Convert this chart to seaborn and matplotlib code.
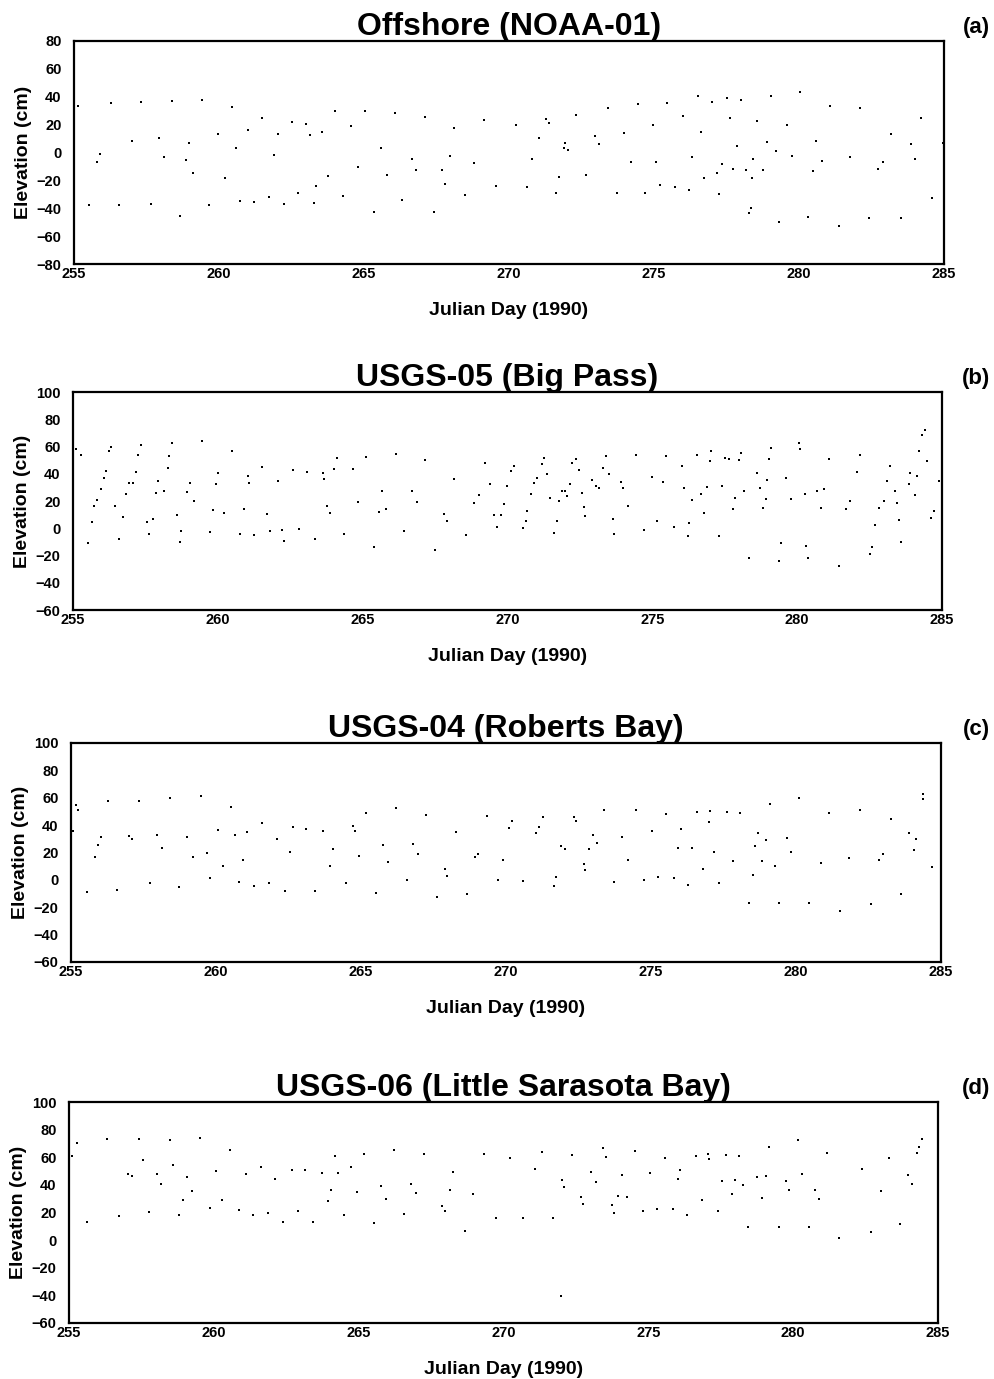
import pandas as pd
import matplotlib.pyplot as plt
import seaborn as sns

# Water level samples (Julian day, elevation cm)
a_day = [255.15, 255.5, 255.78, 255.88, 256.28, 256.56, 257.0, 257.31, 257.64, 257.94,
         258.1, 258.39, 258.64, 258.85, 258.97, 259.1, 259.4, 259.67, 259.96, 260.19,
         260.46, 260.6, 260.71, 260.99, 261.2, 261.49, 261.72, 261.88, 262.02, 262.23,
         262.5, 262.72, 262.99, 263.13, 263.27, 263.35, 263.55, 263.77, 264.0, 264.29,
         264.56, 264.79, 265.05, 265.34, 265.6, 265.78, 266.07, 266.32, 266.67, 266.79,
         267.1, 267.4, 267.7, 267.79, 267.95, 268.1, 268.47, 268.8, 269.14, 269.54,
         270.23, 270.63, 270.8, 271.05, 271.28, 271.37, 271.61, 271.72, 271.88, 271.94,
         272.05, 272.32, 272.65, 272.97, 273.12, 273.4, 273.71, 273.97, 274.19, 274.45,
         274.68, 274.97, 275.08, 275.19, 275.45, 275.71, 275.99, 276.22, 276.31, 276.51,
         276.61, 276.74, 276.99, 277.16, 277.24, 277.34, 277.53, 277.61, 277.74, 277.85,
         278.0, 278.16, 278.28, 278.36, 278.39, 278.43, 278.56, 278.77, 278.9, 279.04,
         279.19, 279.3, 279.57, 279.76, 280.05, 280.31, 280.47, 280.59, 280.79, 281.07,
         281.38, 281.76, 282.1, 282.42, 282.73, 282.9, 283.16, 283.5, 283.85, 283.99,
         284.19, 284.58, 284.95]
a_elev = [33.7, -37.7, -7, -1, 35.6, -37.7, 8.4, 36, -36.8, 10.3,
          -3, 37, -45.7, -5.5, 7, -14.4, 37.7, -38, 13, -18,
          32.5, 2.9, -34.9, 16, -35.3, 24.8, -31.7, -1.7, 13.2, -37.3,
          21.6, -28.8, 20.4, 12.7, -36, -24, 14.9, -16.8, 30, -31.3,
          19, -10.3, 30, -42.5, 2.9, -16, 28.4, -34.4, -4.8, -12.7,
          25.2, -42.8, -12.5, -22.4, -2.4, 17.5, -30.5, -7.7, 23.6, -24,
          19.8, -24.4, -5, 10.6, 23.9, 21, -28.7, -17.6, 3.4, 7,
          1.7, 27, -16.4, 11.8, 5.8, 31.9, -28.7, 13.8, -6.8, 34.8,
          -29.2, 19.6, -6.8, -23.2, 35.3, -25.1, 26.3, -26.8, -3.4, 40.3,
          15, -18.4, 36.5, -14.7, -29.7, -8.2, 38.9, 24.4, -11.8, 4.6,
          37.9, -12.3, -43.7, -40, -18.4, -5, 22.7, -12.3, 7.5, 40.3,
          1, -49.8, 19.6, -2.2, 43.2, -46.6, -13, 8.2, -5.8, 33.1,
          -52.9, -3.4, 31.6, -47.3, -11.6, -7, 13.5, -47.3, 5.8, -5,
          25.1, -32.9, 6.5]

b_day = [255.12, 255.26, 255.51, 255.66, 255.72, 255.84, 255.95, 256.07, 256.13, 256.24,
         256.3, 256.45, 256.59, 256.73, 256.83, 256.94, 257.06, 257.17, 257.26, 257.35,
         257.56, 257.64, 257.76, 257.87, 257.95, 258.14, 258.28, 258.31, 258.42, 258.59,
         258.69, 258.74, 258.92, 259.03, 259.19, 259.44, 259.73, 259.85, 259.94, 260.02,
         260.22, 260.49, 260.76, 260.9, 261.03, 261.07, 261.24, 261.53, 261.71, 261.79,
         262.06, 262.23, 262.29, 262.58, 262.81, 263.08, 263.34, 263.63, 263.66, 263.78,
         263.86, 264.01, 264.13, 264.36, 264.65, 264.85, 265.12, 265.4, 265.58, 265.66,
         265.81, 266.15, 266.42, 266.71, 266.88, 267.15, 267.49, 267.81, 267.91, 268.16,
         268.57, 268.86, 269.01, 269.24, 269.41, 269.53, 269.65, 269.79, 269.87,
         269.97, 270.11, 270.23, 270.55, 270.63, 270.69, 270.8, 270.92, 271.03, 271.18,
         271.26, 271.38, 271.46, 271.59, 271.7, 271.78, 271.87, 271.99, 272.07, 272.15,
         272.24, 272.36, 272.47, 272.56, 272.64, 272.68, 272.91, 273.05, 273.16, 273.28,
         273.39, 273.51, 273.63, 273.68, 273.91, 274.0, 274.17, 274.45, 274.71, 275.0,
         275.17, 275.38, 275.46, 275.75, 276.01, 276.09, 276.26, 276.36, 276.24, 276.53,
         276.67, 276.78, 276.87, 276.98, 277.01, 277.3, 277.41, 277.51, 277.64, 277.79,
         277.86, 277.99, 278.05, 278.16, 278.33, 278.62, 278.71, 278.82, 278.91, 278.97,
         279.02, 279.11, 279.39, 279.44, 279.63, 279.79, 280.06, 280.11, 280.26, 280.38,
         280.31, 280.67, 280.84, 280.92, 281.09, 281.44, 281.69, 281.84, 282.05, 282.18,
         282.51, 282.59, 282.7, 282.82, 282.99, 283.1, 283.22, 283.39, 283.45, 283.51,
         283.6, 283.85, 283.91, 284.06, 284.14, 284.22, 284.31, 284.4, 284.48, 284.63,
         284.71, 284.89]
b_elev = [58, 54, -10.5, 4.6, 16.4, 21, 28.6, 37, 42, 56.7,
          60, 16.4, -8, 8.6, 25, 33, 33.5, 41, 53.5, 61,
          4.6, -4.4, 6.6, 26, 34.7, 27.4, 44.5, 53, 62.8, 9.5,
          -9.8, -2, 26.6, 33.5, 20, 64, -2.4, 13.4, 32.3, 40.3,
          11, 56.7, -3.9, 14, 38.4, 33, -5, 45.2, 10.3, -2.2,
          34.7, -1.5, -9.3, 42.5, -0.2, 41.6, -8, 40.8, 36.4, 16.4,
          11.5, 43.3, 51.3, -4.4, 43.3, 19.3, 52.3, -13.4, 12, 27.4,
          13.9, 54.3, -2, 27.4, 19.3, 50, -15.9, 10.3, 5.4, 36,
          -5, 18.8, 24.2, 47.7, 32.3, 9.5, 1, 9.5, 17.6,
          31, 42, 45.6, 0.5, 5.4, 12.7, 24.9, 33.4, 37, 46.8,
          51.2, 39.5, 22, -3.7, 5.4, 20, 27.3, 27.3, 23.7, 32.7,
          48, 50.5, 42.4, 26, 15.6, 9, 35.4, 31, 29.8, 44.4,
          53, 39.5, 7, -3.9, 34, 29.3, 16.3, 53.7, -1.5, 37.6,
          5.4, 34.1, 53, 1, 45.6, 29.8, 4.1, 20.7, -5.6, 54,
          24.9, 11.5, 30.2, 49, 56.6, -5.6, 31, 51.2, 50.5, 13.9,
          22.4, 49.8, 55.4, 27.3, -22, 40.7, 29.3, 15.1, 21.2, 35.1,
          50.5, 59, -24.4, -10.5, 36.6, 21.7, 62.7, 57.8, 24.9, -22,
          -12.9, 27.3, 15.1, 28.5, 50.5, -28, 13.9, 20, 41.5, 54,
          -19, -13.7, 2.4, 14.6, 20, 34.6, 45.6, 27.3, 18.8, 5.8,
          -9.8, 32.2, 40.7, 24.1, 38.3, 56.6, 68.8, 72.4, 49.3, 7.8,
          12.7, 34.6]

c_day = [255.08, 255.18, 255.23, 255.55, 255.82, 255.94, 256.03, 256.26, 256.6, 256.99,
         257.11, 257.34, 257.71, 257.96, 258.13, 258.43, 258.74, 259.01, 259.19, 259.48,
         259.68, 259.8, 260.06, 260.24, 260.53, 260.67, 260.81, 260.94, 261.08, 261.32,
         261.58, 261.84, 262.1, 262.37, 262.54, 262.64, 263.09, 263.42, 263.69, 263.92,
         264.03, 264.47, 264.71, 264.79, 264.92, 265.18, 265.5, 265.76, 265.94, 266.2,
         266.58, 266.81, 266.96, 267.25, 267.63, 267.9, 267.98, 268.27, 268.66, 268.92,
         269.04, 269.33, 269.74, 269.91,
         270.11, 270.21, 270.6, 271.03, 271.13, 271.26, 271.64, 271.72, 271.9, 272.05,
         272.33, 272.41, 272.68, 272.74, 272.87, 272.99, 273.13, 273.39, 273.74, 274.0,
         274.2, 274.48, 274.75, 275.03, 275.23, 275.52, 275.78, 275.94, 276.05, 276.28,
         276.41, 276.57, 276.78, 276.99, 277.05, 277.18, 277.33, 277.62, 277.82, 278.07,
         278.39, 278.51, 278.6, 278.68, 278.83, 278.97, 279.11, 279.29, 279.43, 279.68,
         279.83, 280.11, 280.46, 280.86, 281.13, 281.52, 281.84, 282.22, 282.59, 282.87,
         283.01, 283.28, 283.62, 283.91, 284.08, 284.14, 284.37, 284.39, 284.69]
c_elev = [35.5, 55, 51.3, -9, 17, 25.7, 31.3, 57.5, -7.3, 31.8,
          30, 57.5, -2.4, 32.5, 23.2, 60, -4.9, 31.3, 17, 61.6,
          19.6, 1.2, 36.7, 9.8, 53.3, 32.5, -1.2, 14.2, 34.7, -4.4,
          41.6, -2, 29.8, -8, 20.3, 38.6, 37.2, -8, 35.5, 9.8,
          22.7, -2.4, 39.6, 35.5, 17.8, 48.9, -9.3, 25.2, 13, 52.6,
          0, 26.4, 18.8, 47.7, -12.2, 8.1, 2.9, 34.7, -10.3, 16.6,
          18.8, 46.5, 0, 14.7,
          37.8, 42.7, -1, 34.6, 38.3, 46, -4.7, 2, 24.8, 22.8,
          45.6, 42.7, 11.3, 7.1, 22.3, 32.9, 26.7, 51, -1.5, 31.4,
          14.5, 51, -0.2, 35.8, 2, 48.1, 1.5, 23.1, 37.1, -3.4,
          23.1, 49.8, 8.3, 42, 50.6, 20.6, -2.2, 49.8, 13.7, 48.8,
          -16.9, 3.4, 24.8, 33.9, 13.7, 29.2, 55.5, 10.1, -16.9, 30.4,
          20.6, 59.9, -16.9, 12.5, 48.8, -23.1, 15.7, 51, -17.7, 14.5,
          18.6, 44.4, -10.3, 34.6, 21.6, 29.7, 62.8, 59.1, 9.3]

d_day = [255.09, 255.26, 255.62, 256.32, 256.72, 257.04, 257.16, 257.42, 257.54, 257.76,
         258.03, 258.18, 258.5, 258.59, 258.81, 258.93, 259.08, 259.23, 259.52, 259.86,
         260.09, 260.28, 260.57, 260.86, 261.12, 261.35, 261.62, 261.88, 262.11, 262.4,
         262.69, 262.9, 263.16, 263.43, 263.74, 263.95, 264.03, 264.18, 264.27, 264.5,
         264.73, 264.94, 265.2, 265.52, 265.78, 265.93, 266.22, 266.57, 266.81, 266.97,
         267.26, 267.88, 267.99, 268.15, 268.26, 268.67, 268.93, 269.34, 269.74,
         270.23, 270.67, 271.09, 271.32, 271.7, 272.01, 272.1, 271.99, 272.38, 272.68,
         272.76, 273.02, 273.18, 273.45, 273.54, 273.74, 273.83, 273.94, 274.08, 274.25,
         274.54, 274.83, 275.06, 275.29, 275.57, 275.84, 276.01, 276.09, 276.33, 276.63,
         276.84, 277.07, 277.09, 277.39, 277.53, 277.68, 277.9, 277.99, 278.13, 278.28,
         278.45, 278.74, 278.91, 279.05, 279.17, 279.51, 279.74, 279.86, 280.17, 280.32,
         280.54, 280.77, 280.9, 281.18, 281.57, 282.39, 282.67, 283.02, 283.31, 283.68,
         283.97, 284.1, 284.29, 284.33, 284.45]
d_elev = [60.6, 70.3, 12.8, 72.9, 17.3, 48.1, 46.4, 72.9, 57.7, 20.2,
          48.1, 40.4, 72.7, 54.6, 18, 28.9, 45.7, 35.4, 74.1, 22.9,
          50, 28.9, 65.4, 21.7, 47.6, 18, 52.9, 19.7, 44, 13.2,
          50.5, 21.2, 50.5, 12.8, 48.6, 28.4, 36.1, 60.9, 48.6, 18.5,
          52.9, 34.9, 62.6, 12.5, 39.2, 29.6, 65.4, 19.2, 40.9, 34.4,
          62.1, 24.5, 20.9, 36.6, 49.3, 6.5, 33.2, 62.1, 16.1,
          59.1, 16.1, 51.3, 63.5, 16.1, 43.3, 38.4, -40.6, 61.6, 31.1,
          26.3, 49.4, 42.1, 66.4, 60.3, 25.1, 19.7, 31.9, 47, 31.1,
          64.5, 21.4, 48.7, 22.6, 59.6, 22.6, 44.5, 50.6, 18.5, 61.1,
          28.7, 62, 58.4, 20.9, 42.8, 61.6, 33.6, 43.3, 60.8, 39.7,
          9.2, 45.7, 30.7, 46.5, 67.2, 9.2, 42.6, 36.5, 72.5, 48.2,
          9.2, 36, 29.9, 62.8, 1.9, 51.3, 5.6, 35.3, 59.1, 11.7,
          47.4, 40.4, 62.8, 67.6, 73.2]

titles = ['Offshore (NOAA-01)', 'USGS-05 (Big Pass)',
          'USGS-04 (Roberts Bay)', 'USGS-06 (Little Sarasota Bay)']
tags = ['(a)', '(b)', '(c)', '(d)']
ylims = [(-80, 80), (-60, 100), (-60, 100), (-60, 100)]
xticks = [255, 260, 265, 270, 275, 280, 285]

sns.set_style('white')
plt.rcParams['font.family'] = ['Liberation Sans', 'DejaVu Sans']
plt.rcParams['font.weight'] = 'bold'
for key in ['text.color', 'axes.labelcolor', 'xtick.color', 'ytick.color']:
    plt.rcParams[key] = 'black'

W, H = 994, 1379
fig = plt.figure(figsize=(W / 100, H / 100), dpi=100)

# axes boxes in pixels: left, right, top, bottom
boxes = [(74, 944, 41, 264), (73, 942, 392, 610),
         (71, 941, 743, 962), (69, 938, 1102, 1323)]
series = [(a_day, a_elev), (b_day, b_elev), (c_day, c_elev), (d_day, d_elev)]

for i, (l, r, t, b) in enumerate(boxes):
    ax = fig.add_axes([l / W, 1 - b / H, (r - l) / W, (b - t) / H])
    df = pd.DataFrame({'day': series[i][0], 'elev': series[i][1]})
    sns.scatterplot(data=df, x='day', y='elev', ax=ax, color='black',
                    s=2.5, linewidth=0, marker='s')
    lo, hi = ylims[i]
    ax.set_xlim(255, 285)
    ax.set_ylim(lo, hi)
    ax.set_xticks(xticks)
    ax.set_yticks(range(lo, hi + 1, 20))
    ax.tick_params(axis='both', labelsize=10.5, length=0, pad=2)
    ax.tick_params(axis='y', pad=9)
    for lab in ax.get_xticklabels() + ax.get_yticklabels():
        lab.set_fontweight('bold')
    for sp in ax.spines.values():
        sp.set_color('black')
        sp.set_linewidth(1.6)
    ax.set_xlabel('Julian Day (1990)', fontsize=14, fontweight='bold', labelpad=15)
    ax.set_ylabel('Elevation (cm)', fontsize=14, fontweight='bold', labelpad=3)
    ax.set_title(titles[i], fontsize=23, fontweight='bold', pad=4)
    fig.text(990 / W, 1 - (t - 3) / H, tags[i], fontsize=16,
             fontweight='bold', ha='right', va='bottom')

fig.savefig('out.png', dpi=100, facecolor='white')
